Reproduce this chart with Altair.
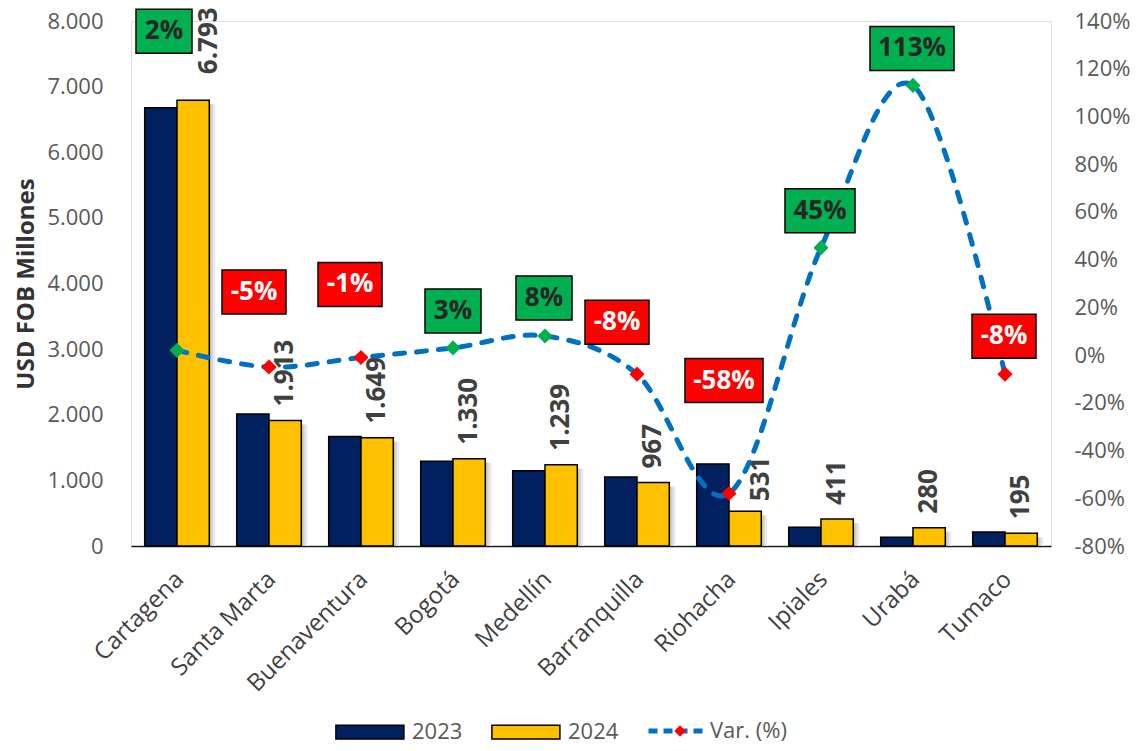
import json
import altair as alt
import pandas as pd

# ---------------- data ----------------
cities = ["Cartagena", "Santa Marta", "Buenaventura", "Bogotá", "Medellín",
          "Barranquilla", "Riohacha", "Ipiales", "Urabá", "Tumaco"]
v2023 = [6680, 2010, 1668, 1290, 1148, 1050, 1250, 285, 135, 213]
v2024 = [6793, 1913, 1649, 1330, 1239, 967, 531, 411, 280, 195]
var_pct = [2, -5, -1, 3, 8, -8, -58, 45, 113, -8]

# ---------------- label layout (pixel offsets, like manual data-label placement) ----
box_dx_px = [-13, -15, -11, 0, -1, -20, -5, -1, -1, -1]
box_dy_px = [-319, -75, -73, -37, -38, -52, -113, -37, -37, -38]
value_label_dx_px = [16, 0, 0, 0, 0, 0, 16, 0, 0, 0]
value_label_gap_px = [26, 14, 14, 14, 14, 14, 10, 14, 14, 14]

# ---------------- geometry ----------------
W, H = 920, 525
XPX = 10.0 / W          # x units per pixel
YPX = 220.0 / H         # percent units per pixel
UPX = 8000.0 / H        # USD units per pixel
BAR = 32.3 * XPX        # bar width in x units

cat = pd.DataFrame({
    "idx": list(range(len(cities))),
    "city": cities,
    "v2023": v2023,
    "v2024": v2024,
    "var": var_pct,
    "bdx": box_dx_px,
    "bdy": box_dy_px,
    "ldx": value_label_dx_px,
    "lgap": value_label_gap_px,
})
bars = pd.DataFrame({
    "idx": list(range(len(cities))) * 2,
    "year": ["2023"] * len(cities) + ["2024"] * len(cities),
    "value": v2023 + v2024,
})

FONT = "Open Sans"
xs = alt.Scale(domain=[-0.5, 9.5], nice=False, zero=False)
city_expr = "[" + ",".join(json.dumps(c, ensure_ascii=False) for c in cities) + "][datum.value]"
xaxis = alt.Axis(values=list(range(len(cities))), labelExpr=city_expr, labelAngle=-45,
                 labelFontSize=24, labelColor="#404040", labelFont=FONT, ticks=False,
                 grid=False, domainColor="#1a1a1a", domainWidth=1.5, title=None,
                 labelPadding=21, labelOffset=-6, labelOverlap=False)

yL_scale = alt.Scale(domain=[0, 8000], nice=False, zero=True)
yL_axis = alt.Axis(values=list(range(0, 8001, 1000)),
                   labelExpr="replace(format(datum.value, ','), ',', '.')",
                   title="USD FOB Millones", titleFontSize=24, titleFontWeight="bold",
                   titleColor="#333333", titleFont=FONT, labelFont=FONT,
                   labelFontSize=22, labelColor="#595959", ticks=False, domain=False,
                   grid=False, labelPadding=28, titlePadding=8)

yR_scale = alt.Scale(domain=[-80, 140], nice=False, zero=False)
yR_axis = alt.Axis(orient="right", values=list(range(-80, 141, 20)),
                   labelExpr="datum.value + '%'", title=None, labelFont=FONT,
                   labelFontSize=22, labelColor="#595959", ticks=False, domain=False,
                   grid=False, labelPadding=23)

LEG_Y = 710  # legend row centre, relative to plot top

# ---------------- left (USD) layers ----------------
shadow = alt.Chart(cat).transform_calculate(
    sx0=f"datum.idx + {BAR}",
    sx1=f"datum.idx + {BAR + 7 * XPX}",
    sy=f"datum.v2024 - {4 * UPX}",
    zero="0",
).mark_rect(
    color=alt.Gradient(gradient="linear",
                       stops=[alt.GradientStop(color="#a0a0a0", offset=0),
                              alt.GradientStop(color="#ffffff", offset=1)],
                       x1=0, x2=1, y1=0, y2=0),
    opacity=0.7,
).encode(
    x=alt.X("sx0:Q", scale=xs, axis=xaxis),
    x2="sx1:Q",
    y=alt.Y("sy:Q", scale=yL_scale, axis=yL_axis),
    y2="zero:Q",
)

bar_chart = alt.Chart(bars).transform_calculate(
    x0=f"datum.idx - (datum.year == '2023' ? {BAR} : 0)",
    x1=f"datum.idx + (datum.year == '2024' ? {BAR} : 0)",
    zero="0",
).mark_rect(stroke="#000000", strokeWidth=1.5).encode(
    x=alt.X("x0:Q", scale=xs, axis=xaxis),
    x2="x1:Q",
    y=alt.Y("value:Q", scale=yL_scale, axis=yL_axis),
    y2="zero:Q",
    fill=alt.Fill("year:N",
                  scale=alt.Scale(domain=["2023", "2024"], range=["#002060", "#FFC000"]),
                  legend=alt.Legend(title=None, orient="none", legendX=204,
                                    legendY=LEG_Y - 13.6,
                                    direction="horizontal",
                                    symbolType="M-1,-0.5H4V0.5H-1Z", symbolSize=740,
                                    symbolStrokeColor="#000000", symbolStrokeWidth=1.5,
                                    labelFont=FONT, labelFontSize=22, labelColor="#595959",
                                    labelOffset=48, columnPadding=25, padding=0)),
)

vlabels = alt.Chart(cat).transform_calculate(
    lx=f"datum.idx + {BAR / 2} + datum.ldx * {XPX}",
    ly=f"datum.v2024 + datum.lgap * {UPX}",
    txt="replace(format(datum.v2024, ','), ',', '.')",
).mark_text(angle=270, align="left", baseline="middle", font=FONT,
            fontSize=26, fontWeight="bold", color="#404040").encode(
    x=alt.X("lx:Q", scale=xs, axis=xaxis),
    y=alt.Y("ly:Q", scale=yL_scale, axis=yL_axis),
    text="txt:N",
)

left = alt.layer(shadow, bar_chart, vlabels)

# ---------------- right (%) layers ----------------
line = alt.Chart(cat).transform_calculate(serie_line="'Var. (%)'").mark_line(
    interpolate="cardinal", strokeDash=[10, 12], strokeWidth=5, strokeCap="round",
).encode(
    x=alt.X("idx:Q", scale=xs, axis=xaxis),
    y=alt.Y("var:Q", scale=yR_scale, axis=yR_axis),
    stroke=alt.Stroke("serie_line:N",
                      scale=alt.Scale(domain=["Var. (%)"], range=["#0070C0"]),
                      legend=alt.Legend(title=None, orient="none", legendX=515,
                                        legendY=LEG_Y - 30,
                                        symbolType="stroke", symbolSize=3025,
                                        symbolStrokeWidth=5, symbolDash=[9, 6],
                                        labelFont=FONT, labelFontSize=22,
                                        labelColor="#595959", labelOffset=4, padding=0)),
    order="idx:Q",
)

pts = alt.Chart(cat).transform_calculate(serie_pt="'Var. (%) '").mark_point(
    filled=True, size=230, opacity=1, strokeWidth=0,
).encode(
    x=alt.X("idx:Q", scale=xs, axis=xaxis),
    y=alt.Y("var:Q", scale=yR_scale, axis=yR_axis),
    shape=alt.Shape("serie_pt:N",
                    scale=alt.Scale(domain=["Var. (%) "], range=["diamond"]),
                    legend=alt.Legend(title=None, orient="none", legendX=543,
                                      legendY=LEG_Y - 6,
                                      labelExpr="''", labelFontSize=1,
                                      symbolFillColor="#FF0000",
                                      symbolStrokeColor="#FF0000", symbolSize=130,
                                      symbolStrokeWidth=0, padding=0)),
    fill=alt.condition("datum.var >= 0", alt.value("#00B050"), alt.value("#FF0000")),
)

box_base = alt.Chart(cat).transform_calculate(
    cy=f"datum.var - datum.bdy * {YPX}",
    cx=f"datum.idx + datum.bdx * {XPX}",
    bw=f"(42 + 14 * length(toString(abs(datum.var))) + (datum.var < 0 ? 8 : 0)) * {XPX} / 2",
    bx0="datum.cx - datum.bw",
    bx1="datum.cx + datum.bw",
    by0=f"datum.cy - {22 * YPX}",
    by1=f"datum.cy + {22 * YPX}",
    txt="toString(datum.var) + '%'",
)

box = box_base.mark_rect(stroke="#000000", strokeWidth=1.5).encode(
    x=alt.X("bx0:Q", scale=xs, axis=xaxis),
    x2="bx1:Q",
    y=alt.Y("by0:Q", scale=yR_scale, axis=yR_axis),
    y2="by1:Q",
    fill=alt.condition("datum.var >= 0", alt.value("#00B050"), alt.value("#FF0000")),
)

boxtext = box_base.mark_text(font=FONT, fontSize=26, fontWeight="bold",
                             baseline="middle", align="center").encode(
    x=alt.X("cx:Q", scale=xs, axis=xaxis),
    y=alt.Y("cy:Q", scale=yR_scale, axis=yR_axis),
    text="txt:N",
    color=alt.condition("datum.var >= 0", alt.value("#262626"), alt.value("#FFFFFF")),
)

right = alt.layer(line, pts, box, boxtext)

chart = alt.layer(left, right).resolve_scale(
    y="independent"
).properties(
    width=W, height=H,
    autosize=alt.AutoSizeParams(type="none"),
    padding={"left": 123, "top": 13, "right": 81, "bottom": 197},
).configure_view(stroke=None).configure(font=FONT)

chart.save("out.html", embed_options={"renderer": "svg", "actions": False})
